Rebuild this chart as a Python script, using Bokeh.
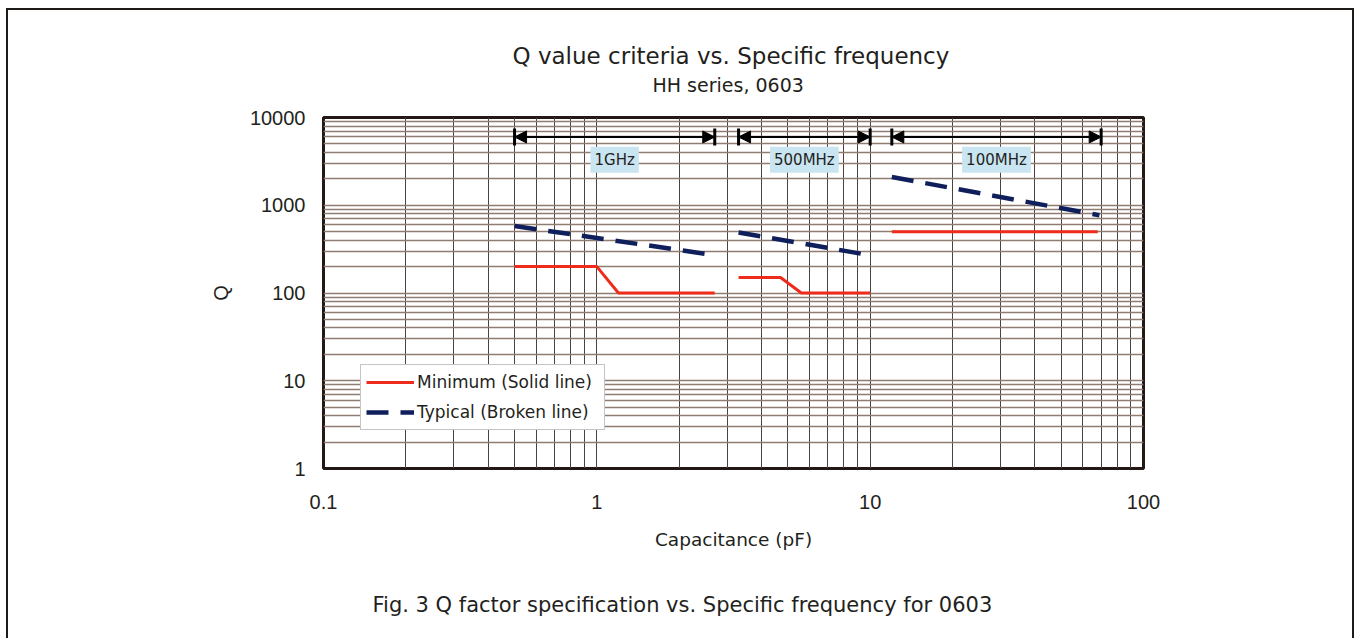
from bokeh.plotting import figure
from bokeh.models import (Range1d, FixedTicker, Title, Arrow, NormalHead, Label,
                          Legend, LegendItem, NumeralTickFormatter)
from bokeh.embed import file_html
from bokeh.resources import INLINE

# ---------------- data ----------------
x_ticks = [0.1, 1, 10, 100]
y_ticks = [1, 10, 100, 1000, 10000]

bands = ["1GHz", "500MHz", "100MHz"]
band_lo = [0.5, 3.3, 12]
band_hi = [2.7, 10, 70]

min_1g_c = [0.5, 1.0, 1.2, 2.7]
min_1g_q = [200, 200, 100, 100]
min_500_c = [3.3, 4.7, 5.6, 10]
min_500_q = [150, 150, 100, 100]
min_100_c = [12, 68]
min_100_q = [500, 500]

typ_1g_c = [0.5, 2.7]
typ_1g_q = [580, 270]
typ_500_c = [3.3, 9.3]
typ_500_q = [490, 280]
typ_100_c = [12, 69]
typ_100_q = [2100, 770]

title_text = "Q value criteria vs. Specific frequency"
subtitle_text = "HH series, 0603"
caption_text = "Fig. 3 Q factor specification vs. Specific frequency for 0603"

# ---------------- figure ----------------
TXT = "#231f20"
p = figure(x_axis_type="log", y_axis_type="log",
           x_range=Range1d(0.1, 100), y_range=Range1d(1, 10000),
           width=1348, height=630, output_backend="svg", toolbar_location=None,
           min_border_left=315, min_border_right=213,
           min_border_top=107, min_border_bottom=172,
           background_fill_color="white", border_fill_color="white")
p.styles = {"border": "2px solid #1e1a18", "border-bottom": "none",
            "margin-left": "6px", "margin-top": "8px"}

x_minor = [m * 10 ** e for e in range(-1, 2) for m in range(2, 10)]
y_minor = [m * 10 ** e for e in range(0, 4) for m in range(2, 10)]
p.xaxis.ticker = FixedTicker(ticks=x_ticks, minor_ticks=x_minor)
p.yaxis.ticker = FixedTicker(ticks=y_ticks, minor_ticks=y_minor)
p.xaxis.formatter = NumeralTickFormatter(format="0.[0]")
p.yaxis.formatter = NumeralTickFormatter(format="0")

for ax in (p.xaxis[0], p.yaxis[0]):
    ax.axis_line_color = None
    ax.major_tick_line_color = None
    ax.minor_tick_line_color = None
    ax.major_tick_out = 0
    ax.major_tick_in = 0
    ax.minor_tick_out = 0
    ax.minor_tick_in = 0
    ax.major_label_text_font = "Liberation Sans"
    ax.major_label_text_font_size = "20px"
    ax.major_label_text_color = TXT
p.xaxis.major_label_standoff = 26
p.yaxis.major_label_standoff = 18

p.xaxis.axis_label = "Capacitance (pF)"
p.xaxis.axis_label_text_font = "DejaVu Sans"
p.xaxis.axis_label_text_font_size = "18.5px"
p.xaxis.axis_label_text_font_style = "normal"
p.xaxis.axis_label_text_color = TXT
p.xaxis.axis_label_standoff = 17

p.yaxis.axis_label = "Q"
p.yaxis.axis_label_text_font = "Liberation Sans"
p.yaxis.axis_label_text_font_size = "20px"
p.yaxis.axis_label_text_font_style = "normal"
p.yaxis.axis_label_text_color = TXT
p.yaxis.axis_label_standoff = 15

p.xgrid.grid_line_color = "#4e423d"
p.xgrid.grid_line_width = 1
p.xgrid.minor_grid_line_color = "#4e423d"
p.xgrid.minor_grid_line_width = 1
p.ygrid.grid_line_color = "#8f7d72"
p.ygrid.grid_line_width = 1.3
p.ygrid.minor_grid_line_color = "#8f7d72"
p.ygrid.minor_grid_line_width = 1.3

p.outline_line_color = "#231815"
p.outline_line_width = 3

# ---------------- titles / caption ----------------
def txt_title(text, size, offset, standoff):
    return Title(text=text, align="left", offset=offset, text_font="DejaVu Sans",
                 text_font_size=size, text_font_style="normal", text_color=TXT,
                 standoff=standoff)

# above: spacer (nearest frame), subtitle, then main title (p.title, outermost)
p.add_layout(Title(text=" ", text_font_size="1px", standoff=19), "above")
p.add_layout(txt_title(subtitle_text, "19px", 329, 0), "above")
p.title.text = title_text
p.title.align = "left"
p.title.offset = 189
p.title.text_font = "DejaVu Sans"
p.title.text_font_size = "23px"
p.title.text_font_style = "normal"
p.title.text_color = TXT
p.title.standoff = 6

# below: axis, spacer, caption
p.add_layout(Title(text=" ", text_font_size="1px", standoff=35), "below")
p.add_layout(txt_title(caption_text, "21px", 49, 0), "below")

# ---------------- series ----------------
RED = "#ef2b1c"
NAVY = "#0f1f5c"
r_min = p.line(min_1g_c, min_1g_q, line_color=RED, line_width=3)
p.line(min_500_c, min_500_q, line_color=RED, line_width=3)
p.line(min_100_c, min_100_q, line_color=RED, line_width=3)
r_typ = p.line(typ_1g_c, typ_1g_q, line_color=NAVY, line_width=4.5, line_dash="22 12")
p.line(typ_500_c, typ_500_q, line_color=NAVY, line_width=4.5, line_dash="22 12")
p.line(typ_100_c, typ_100_q, line_color=NAVY, line_width=4.5, line_dash="22 12")

# frequency-band arrows
ARROW_Q = 6000
for name, lo, hi in zip(bands, band_lo, band_hi):
    p.add_layout(Arrow(x_start=lo, x_end=hi, y_start=ARROW_Q, y_end=ARROW_Q,
                       line_width=2, line_color="black",
                       start=NormalHead(size=12, fill_color="black", line_color="black"),
                       end=NormalHead(size=12, fill_color="black", line_color="black")))
    p.add_layout(Label(x=(lo * hi) ** 0.5, y=3300, text=name, text_align="center",
                       text_baseline="middle", text_font="DejaVu Sans",
                       text_font_size="15px", text_color=TXT,
                       background_fill_color="#c9e5f1", padding=4))
p.segment(x0=band_lo + band_hi, y0=[4800] * 6, x1=band_lo + band_hi, y1=[7500] * 6,
          line_color="black", line_width=3)

legend = Legend(items=[LegendItem(label="Minimum (Solid line)", renderers=[r_min]),
                       LegendItem(label="Typical (Broken line)", renderers=[r_typ])],
                location=(37, 38), glyph_width=48, glyph_height=24, label_height=24,
                label_width=182, spacing=6, padding=5, margin=0, label_standoff=3,
                label_text_font="DejaVu Sans", label_text_font_size="17px",
                label_text_color=TXT, border_line_color="#8a8a8a", border_line_width=1.5,
                background_fill_color="white", background_fill_alpha=1)
p.add_layout(legend, "center")

open("out.html", "w").write(file_html(p, INLINE))
